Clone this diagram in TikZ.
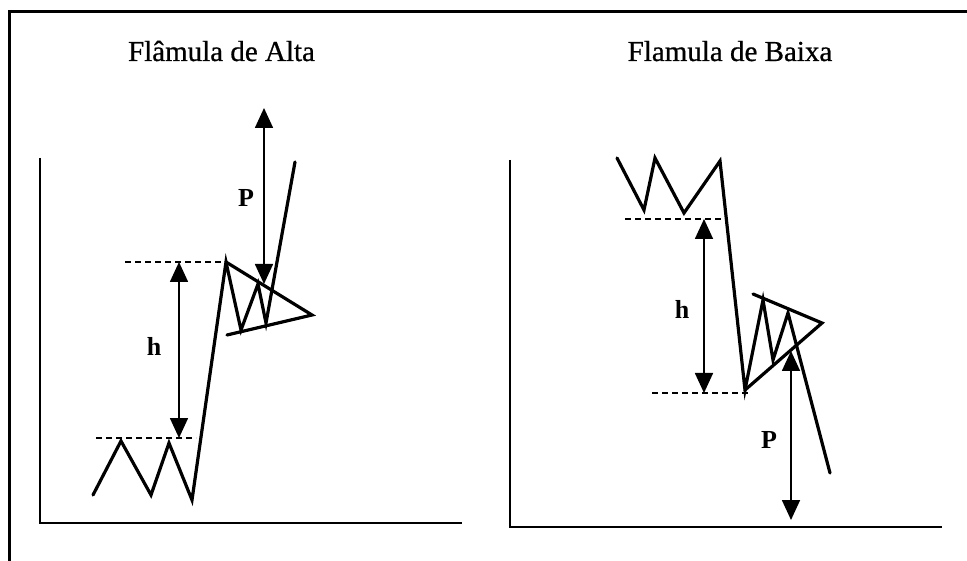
\documentclass[tikz,border=0pt]{standalone}
\usepackage{fontspec}
\setmainfont{Liberation Serif}
\newfontfamily\titlefont{Liberation Serif}[FakeBold=0.7]
\usetikzlibrary{arrows.meta}
\begin{document}
\begin{tikzpicture}[x=1pt,y=-1pt,
  frame/.style={line width=3pt},
  axis/.style={line width=1.8pt},
  price/.style={line width=3.2pt,line join=miter,line cap=round},
  guide/.style={dashed,line width=1.8pt,dash pattern=on 6pt off 4pt},
  measure/.style={line width=1.7pt,{Triangle[length=20pt,width=18pt]}-{Triangle[length=20pt,width=18pt]}},
  title/.style={font=\titlefont\fontsize{29}{32}\selectfont,anchor=base},
  lbl/.style={font=\fontsize{26}{28}\selectfont\bfseries}]
\useasboundingbox (0,0) rectangle (967,561);
\fill[white] (0,0) rectangle (967,561);
% outer frame
\draw[frame] (967,12) -- (9,12) -- (9,561);
% titles
\node[title] (t1) at (221.5,61) {Flâmula de Alta};
\node[title] (t2) at (730,61) {Flamula de Baixa};
% ---------- left panel ----------
\draw[axis] (40,158) -- (40,523) -- (462,523);
\coordinate (a0) at (93,495);
\coordinate (a1) at (121,441);
\coordinate (a2) at (151,495);
\coordinate (a3) at (169,443);
\coordinate (a4) at (192,500);
\coordinate (a5) at (226,262);
\coordinate (a6) at (241,330);
\coordinate (a7) at (258,284);
\coordinate (a8) at (266,323);
\coordinate (a9) at (295,162);
\coordinate (atip) at (312,315);
\coordinate (alow) at (227,335);
\draw[price] (a0) -- (a1) -- (a2) -- (a3) -- (a4) -- (a5) -- (a6) -- (a7) -- (a8) -- (a9);
\draw[price] (a5) -- (atip) -- (alow);
\coordinate (ad1) at (125,262);
\coordinate (ad2) at (96,438);
\coordinate (ad3) at (196,438);
\draw[guide] (ad1) -- (a5);
\draw[guide] (ad2) -- (ad3);
\coordinate (ah1) at (179,262);
\coordinate (ah2) at (179,438);
\draw[measure] (ah1) -- (ah2);
\node[lbl] (ahl) at (154,346) {h};
\coordinate (ap1) at (264,108);
\coordinate (ap2) at (264,284);
\draw[measure] (ap1) -- (ap2);
\node[lbl] (apl) at (246,198) {P};
% ---------- right panel ----------
\draw[axis] (510,160) -- (510,527) -- (942,527);
\coordinate (b0) at (617,158);
\coordinate (b1) at (644,210);
\coordinate (b2) at (655,158);
\coordinate (b3) at (684,213);
\coordinate (b4) at (720,161);
\coordinate (b5) at (745,390);
\coordinate (b6) at (763,300);
\coordinate (b7) at (773,360);
\coordinate (b8) at (788,313);
\coordinate (b9) at (830,473);
\coordinate (btip) at (822,323);
\coordinate (bup) at (753,294);
\draw[price] (b0) -- (b1) -- (b2) -- (b3) -- (b4) -- (b5) -- (b6) -- (b7) -- (b8) -- (b9);
\draw[price] (b5) -- (btip) -- (bup);
\coordinate (bd1) at (625,219);
\coordinate (bd2) at (728,219);
\coordinate (bd3) at (652,393);
\coordinate (bd4) at (750,393);
\draw[guide] (bd1) -- (bd2);
\draw[guide] (bd3) -- (bd4);
\coordinate (bh1) at (704,219);
\coordinate (bh2) at (704,393);
\draw[measure] (bh1) -- (bh2);
\node[lbl] (bhl) at (682,309) {h};
\coordinate (bp1) at (791,351);
\coordinate (bp2) at (791,520);
\draw[measure] (bp1) -- (bp2);
\node[lbl] (bpl) at (769,440) {P};
\end{tikzpicture}
\end{document}
